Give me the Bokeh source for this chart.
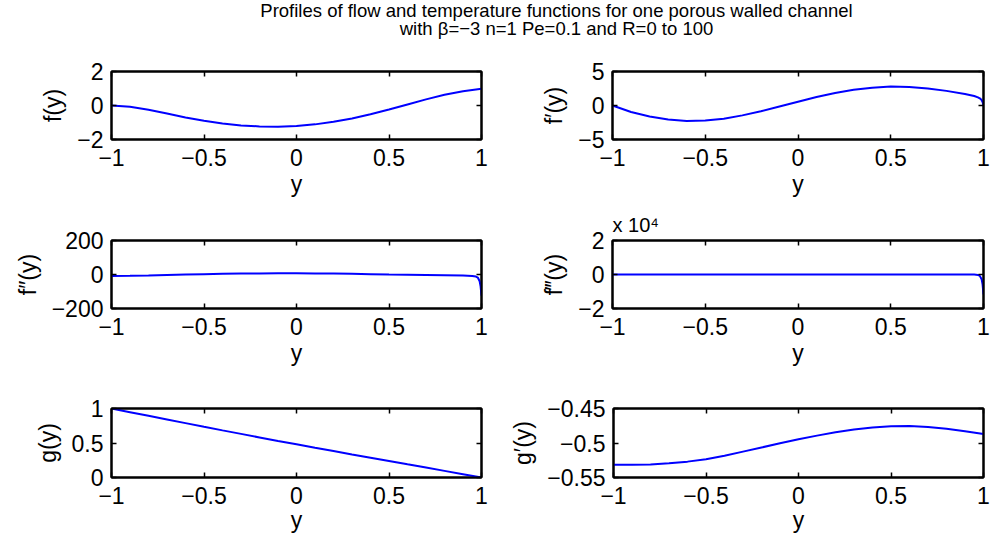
from bokeh.plotting import figure
from bokeh.models import (Range1d, FixedTicker, CustomJSTickFormatter, LinearAxis,
                          Label, Title, CustomLabelingPolicy)
from bokeh.layouts import column, row
from bokeh.embed import file_html
from bokeh.resources import INLINE
from bokeh.core.validation import silence
from bokeh.core.validation.warnings import MISSING_RENDERERS

silence(MISSING_RENDERERS, True)

FONT = "Liberation Sans"
FS = "23px"
TITLE_FS = "18.5px"
BLUE = "#0000ff"

# ---------------- data ----------------
title_lines = [
    "Profiles of flow and temperature functions for one porous walled channel",
    "with \u03b2=\u22123 n=1 Pe=0.1 and R=0 to 100",
]
exponent_text = "x 10\u2074"
x_label = "y"
x_ticks = [-1, -0.5, 0, 0.5, 1]

y_grid = [-1.0, -0.9, -0.8, -0.7, -0.6, -0.5, -0.4, -0.3, -0.2, -0.1, 0.0,
          0.1, 0.2, 0.3, 0.4, 0.5, 0.6, 0.7, 0.8, 0.9, 1.0]
y_wall = [-1.0, -0.9, -0.8, -0.7, -0.6, -0.5, -0.4, -0.3, -0.2, -0.1, 0.0,
          0.1, 0.2, 0.3, 0.4, 0.5, 0.6, 0.7, 0.8, 0.9, 0.95, 0.97, 0.98,
          0.99, 0.995, 1.0]

f_vals = [0.0, -0.08, -0.25, -0.47, -0.70, -0.90, -1.06, -1.17, -1.23, -1.25,
          -1.21, -1.11, -0.96, -0.76, -0.52, -0.24, 0.06, 0.36, 0.63, 0.84, 0.98]
fp_vals = [0.0, -0.95, -1.62, -2.06, -2.27, -2.22, -1.95, -1.45, -0.85, -0.15,
           0.55, 1.25, 1.85, 2.30, 2.62, 2.78, 2.73, 2.50, 2.15, 1.70, 1.40,
           1.20, 1.05, 0.80, 0.50, 0.0]
fpp_vals = [-9.0, -7.5, -5.5, -3.0, -0.5, 2.0, 4.0, 5.5, 6.5, 7.0, 7.0, 6.5,
            5.3, 3.8, 2.0, 0.0, -1.5, -3.0, -4.5, -6.5, -9.0, -12.0, -18.0,
            -40.0, -70.0, -125.0]
fppp_vals = [15, 14, 12, 10, 8, 6, 4, 2, 0, -2, -4, -5, -6, -7, -8, -9, -10,
             -12, -15, -25, -60, -250, -800, -2800, -5800, -11700]
g_vals = [1.0, 0.947, 0.894, 0.841, 0.788, 0.735, 0.683, 0.632, 0.581, 0.530,
          0.481, 0.431, 0.383, 0.334, 0.287, 0.239, 0.191, 0.144, 0.096, 0.048, 0.0]
gp_vals = [-0.5315, -0.5315, -0.5310, -0.5295, -0.5270, -0.5235, -0.5185,
           -0.5125, -0.5065, -0.5005, -0.4945, -0.4893, -0.4845, -0.4805,
           -0.4775, -0.4757, -0.4755, -0.4768, -0.4795, -0.4830, -0.4870]

panels = [
    dict(x=y_grid, v=f_vals, rng=(-2, 2), ticks=[-2, 0, 2], label="f(y)", scale=1),
    dict(x=y_wall, v=fp_vals, rng=(-5, 5), ticks=[-5, 0, 5], label="f\u2032(y)", scale=1),
    dict(x=y_wall, v=fpp_vals, rng=(-200, 200), ticks=[-200, 0, 200], label="f\u2033(y)", scale=1),
    dict(x=y_wall, v=fppp_vals, rng=(-20000, 20000), ticks=[-20000, 0, 20000], label="f\u2034(y)", scale=10000),
    dict(x=y_grid, v=g_vals, rng=(0, 1), ticks=[0, 0.5, 1], label="g(y)", scale=1),
    dict(x=y_grid, v=gp_vals, rng=(-0.55, -0.45), ticks=[-0.55, -0.5, -0.45], label="g\u2032(y)", scale=1),
]

# ---------------- layout geometry ----------------
LEFT_W, RIGHT_W = 507, 483
LEFT_B = (111, 26)
RIGHT_B = (105, 7)
ROWS = [  # height, border top, border bottom, x-label standoff
    (149, 15, 66, 2),
    (168, 35, 65, 2),
    (165, 35, 61, 0),
]
TITLE_H = 56
TITLE_CX = 556          # title centre, from the left of the page content
TITLE_BASE = [10, 28]   # baselines, from the top of the title strip

FMT_CODE = ("const v = Number((tick / s).toFixed(6));"
            "return v < 0 ? '\\u2212' + String(-v) : String(v);")


def style_axis(ax, show_labels, label_standoff=0, tick_standoff=8):
    ax.axis_line_color = "black"
    ax.axis_line_width = 2
    ax.major_tick_line_color = "black"
    ax.major_tick_line_width = 1.5
    ax.major_tick_in = 5
    ax.major_tick_out = 0
    ax.minor_tick_line_color = None
    ax.major_label_text_font = FONT
    ax.major_label_text_color = "black"
    ax.axis_label_text_font = FONT
    ax.axis_label_text_font_size = FS
    ax.axis_label_text_font_style = "normal"
    ax.axis_label_text_color = "black"
    if show_labels:
        ax.major_label_text_font_size = FS
        ax.major_label_standoff = tick_standoff
        ax.axis_label_standoff = label_standoff
    else:
        ax.major_label_text_font_size = "1px"
        ax.major_label_standoff = 0
        ax.major_label_policy = CustomLabelingPolicy(code="return []")


def make_panel(spec, width, borders, rowgeom):
    h, bt, bb, xls = rowgeom
    p = figure(width=width, height=h, x_range=Range1d(-1, 1),
               y_range=Range1d(*spec["rng"]), output_backend="svg",
               toolbar_location=None, min_border_left=borders[0],
               min_border_right=borders[1], min_border_top=bt,
               min_border_bottom=bb)
    p.line(spec["x"], spec["v"], line_color=BLUE, line_width=2)
    p.grid.visible = False
    p.outline_line_color = "black"
    p.outline_line_width = 2

    xfmt = CustomJSTickFormatter(args=dict(s=1), code=FMT_CODE)
    yfmt = CustomJSTickFormatter(args=dict(s=spec["scale"]), code=FMT_CODE)

    bottom = p.below[0]
    left = p.left[0]
    bottom.ticker = FixedTicker(ticks=x_ticks)
    bottom.formatter = xfmt
    bottom.axis_label = x_label
    left.ticker = FixedTicker(ticks=spec["ticks"])
    left.formatter = yfmt
    left.axis_label = spec["label"]
    style_axis(bottom, True, label_standoff=xls, tick_standoff=9)
    style_axis(left, True, label_standoff=8, tick_standoff=8)

    top = LinearAxis(ticker=FixedTicker(ticks=x_ticks))
    right = LinearAxis(ticker=FixedTicker(ticks=spec["ticks"]))
    style_axis(top, False)
    style_axis(right, False)
    p.add_layout(top, "above")
    p.add_layout(right, "right")

    if spec["scale"] != 1:
        p.add_layout(Title(text=exponent_text, align="left", text_font=FONT,
                           text_font_size="20px", text_font_style="normal",
                           text_color="black", standoff=2), "above")
    return p


figs = []
for i, spec in enumerate(panels):
    r = i // 2
    if i % 2 == 0:
        figs.append(make_panel(spec, LEFT_W, LEFT_B, ROWS[r]))
    else:
        figs.append(make_panel(spec, RIGHT_W, RIGHT_B, ROWS[r]))

tf = figure(width=LEFT_W + RIGHT_W, height=TITLE_H, output_backend="svg",
            toolbar_location=None, x_axis_location=None, y_axis_location=None,
            min_border_left=0, min_border_right=0, min_border_top=0,
            min_border_bottom=0, title=None,
            x_range=Range1d(0, LEFT_W + RIGHT_W), y_range=Range1d(TITLE_H, 0))
tf.outline_line_color = None
tf.grid.visible = False
for line, base in zip(title_lines, TITLE_BASE):
    tf.add_layout(Label(x=TITLE_CX, y=base, text=line, text_align="center",
                        text_baseline="alphabetic", text_font=FONT,
                        text_font_size=TITLE_FS, text_color="black"))

layout = column(tf, row(figs[0], figs[1]), row(figs[2], figs[3]),
                row(figs[4], figs[5]))

open("out.html", "w", encoding="utf-8").write(file_html(layout, INLINE))
